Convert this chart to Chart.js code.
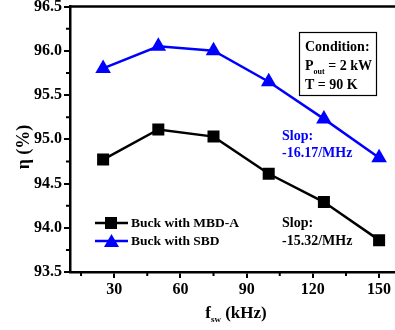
<!DOCTYPE html>
<html>
<head>
<meta charset="utf-8">
<script src="https://cdn.jsdelivr.net/npm/chart.js@4"></script>
<style>
  html, body { margin: 0; padding: 0; background: #fff; overflow: hidden; }
</style>
</head>
<body>
<canvas id="eff_chart" width="395" height="330"></canvas>
<script>
// frequencies (kHz)
const freqs = [25, 50, 75, 100, 125, 150];
// efficiency (%)
const mbdA = [94.77, 95.11, 95.03, 94.61, 94.29, 93.86];
const sbd = [95.80, 96.05, 96.00, 95.65, 95.23, 94.79];
const seriesNames = ['Buck with MBD-A', 'Buck with SBD'];
const seriesColors = ['#000000', '#0000ff'];
const xMajorTicks = [30, 60, 90, 120, 150];
const xMinorTicks = [15, 45, 75, 105, 135];
const yMajorTicks = [93.5, 94, 94.5, 95, 95.5, 96, 96.5];
const yMinorTicks = [93.75, 94.25, 94.75, 95.25, 95.75, 96.25];

const FONT = '"Liberation Serif", "Times New Roman", serif';

// minor ticks, top frame, condition box, notes, legend, axis titles
const decor = {
  id: 'decor',
  afterDraw(chart) {
    const ctx = chart.ctx;
    const xs = chart.scales.x, ys = chart.scales.y;
    const a = chart.chartArea;
    ctx.save();
    ctx.strokeStyle = '#000';
    ctx.lineWidth = 2;
    ctx.beginPath();
    xMinorTicks.forEach(v => {
      const px = xs.getPixelForValue(v);
      ctx.moveTo(px, a.bottom); ctx.lineTo(px, a.bottom + 4);
    });
    yMinorTicks.forEach(v => {
      const py = ys.getPixelForValue(v);
      ctx.moveTo(a.left, py); ctx.lineTo(a.left - 4, py);
    });
    ctx.stroke();

    // top frame line (right side is cut off in the original)
    ctx.lineWidth = 2.5;
    ctx.beginPath();
    ctx.moveTo(a.left, a.top); ctx.lineTo(a.right, a.top);
    ctx.stroke();

    // condition box
    ctx.lineWidth = 1.2;
    ctx.strokeRect(299.5, 32.5, 77, 63);
    ctx.fillStyle = '#000';
    ctx.font = 'bold 14px ' + FONT;
    ctx.textBaseline = 'alphabetic';
    ctx.textAlign = 'left';
    ctx.fillText('Condition:', 305, 51);
    ctx.fillText('P', 305, 70);
    let w = ctx.measureText('P').width;
    ctx.font = 'bold 8px ' + FONT;
    ctx.fillText('out', 305 + w, 74);
    const w2 = ctx.measureText('out').width;
    ctx.font = 'bold 14px ' + FONT;
    ctx.fillText(' = 2 kW', 305 + w + w2, 70);
    ctx.fillText('T = 90 K', 305, 89);

    // slope notes
    ctx.font = 'bold 14px ' + FONT;
    ctx.fillStyle = seriesColors[1];
    ctx.fillText('Slop:', 282, 140);
    ctx.fillText('-16.17/MHz', 282, 157);
    ctx.fillStyle = seriesColors[0];
    ctx.fillText('Slop:', 282, 227);
    ctx.fillText('-15.32/MHz', 282, 245);

    // legend
    const legY = [223, 241];
    legY.forEach((y, i) => {
      ctx.strokeStyle = seriesColors[i];
      ctx.fillStyle = seriesColors[i];
      ctx.lineWidth = 2.5;
      ctx.beginPath();
      ctx.moveTo(95, y); ctx.lineTo(128, y);
      ctx.stroke();
      if (i === 0) {
        ctx.fillRect(105, y - 6, 12, 12);
      } else {
        ctx.beginPath();
        ctx.moveTo(111.5, y - 7); ctx.lineTo(119, y + 6); ctx.lineTo(104, y + 6);
        ctx.closePath(); ctx.fill();
      }
      ctx.fillStyle = '#000';
      ctx.font = 'bold 13.5px ' + FONT;
      ctx.textBaseline = 'middle';
      ctx.fillText(seriesNames[i], 131, y + 1);
    });

    // axis titles
    ctx.fillStyle = '#000';
    ctx.textBaseline = 'alphabetic';
    ctx.textAlign = 'left';
    const t1 = 'f', t2 = 'sw', t3 = ' (kHz)';
    ctx.font = 'bold 17px ' + FONT;
    const w1 = ctx.measureText(t1).width;
    const w3 = ctx.measureText(t3).width;
    ctx.font = 'bold 9px ' + FONT;
    const ws = ctx.measureText(t2).width;
    let x0 = 236 - (w1 + ws + w3) / 2;
    ctx.font = 'bold 17px ' + FONT;
    ctx.fillText(t1, x0, 318);
    ctx.font = 'bold 9px ' + FONT;
    ctx.fillText(t2, x0 + w1, 322);
    ctx.font = 'bold 17px ' + FONT;
    ctx.fillText(t3, x0 + w1 + ws, 318);

    ctx.font = 'bold 18px ' + FONT;
    ctx.translate(29, 147);
    ctx.rotate(-Math.PI / 2);
    ctx.textAlign = 'center';
    ctx.fillText('\u03b7 (%)', 0, 0);
    ctx.restore();
  }
};

function noPad(s) {
  s.paddingTop = 0; s.paddingBottom = 0; s.paddingLeft = 0; s.paddingRight = 0;
}

new Chart(document.getElementById('eff_chart').getContext('2d'), {
  type: 'line',
  data: {
    datasets: [
      {
        label: seriesNames[0],
        data: freqs.map((f, i) => ({x: f, y: mbdA[i]})),
        borderColor: seriesColors[0],
        backgroundColor: seriesColors[0],
        borderWidth: 2.5,
        pointStyle: 'rect',
        pointRadius: 8.5,
        pointHoverRadius: 8.5,
        pointBorderWidth: 0
      },
      {
        label: seriesNames[1],
        data: freqs.map((f, i) => ({x: f, y: sbd[i]})),
        borderColor: seriesColors[1],
        backgroundColor: seriesColors[1],
        borderWidth: 2.5,
        pointStyle: 'triangle',
        pointRadius: 9,
        pointHoverRadius: 9,
        pointBorderWidth: 0
      }
    ]
  },
  options: {
    responsive: false,
    animation: false,
    layout: { autoPadding: false, padding: { top: 6.5, right: 0, left: 0, bottom: 0 } },
    plugins: { legend: { display: false }, tooltip: { enabled: false } },
    scales: {
      x: {
        type: 'linear',
        min: 10, max: 157.2,
        afterBuildTicks: s => { s.ticks = xMajorTicks.map(v => ({value: v})); },
        afterFit: s => { s.height = 58; noPad(s); },
        border: { display: true, color: '#000', width: 2.5 },
        grid: { drawOnChartArea: false, color: '#000', tickLength: 6, lineWidth: 2 },
        ticks: { color: '#000', font: { family: FONT, size: 16, weight: 'bold' }, padding: 2, maxRotation: 0 }
      },
      y: {
        min: 93.5, max: 96.5,
        afterBuildTicks: s => { s.ticks = yMajorTicks.map(v => ({value: v})); },
        afterFit: s => { s.width = 70; noPad(s); },
        border: { display: true, color: '#000', width: 2.5 },
        grid: { drawOnChartArea: false, color: '#000', tickLength: 6, lineWidth: 2 },
        ticks: { color: '#000', font: { family: FONT, size: 16, weight: 'bold' }, padding: 2,
          callback: v => v.toFixed(1) }
      }
    }
  },
  plugins: [decor]
});
</script>
</body>
</html>
